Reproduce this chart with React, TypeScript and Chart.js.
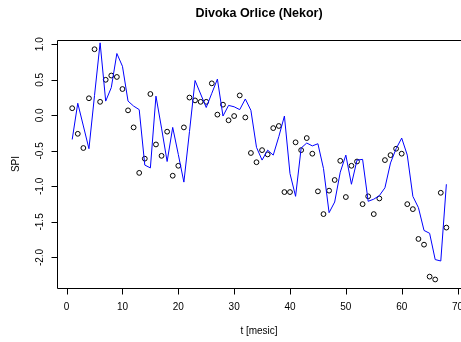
import { useEffect, useRef } from "react";
import { Chart, registerables } from "chart.js";

Chart.register(...registerables);

// Month index (t) for every observation
const months = [
  1, 2, 3, 4, 5, 6, 7, 8, 9, 10, 11, 12, 13, 14, 15, 16, 17, 18, 19, 20,
  21, 22, 23, 24, 25, 26, 27, 28, 29, 30, 31, 32, 33, 34, 35, 36, 37, 38, 39, 40,
  41, 42, 43, 44, 45, 46, 47, 48, 49, 50, 51, 52, 53, 54, 55, 56, 57, 58, 59, 60,
  61, 62, 63, 64, 65, 66, 67, 68,
];

// Observed SPI (open circles)
const observedSpi = [
  0.10, -0.26, -0.46, 0.24, 0.93, 0.19, 0.50, 0.56, 0.54, 0.37,
  0.07, -0.17, -0.81, -0.61, 0.30, -0.41, -0.57, -0.23, -0.85, -0.71,
  -0.17, 0.25, 0.21, 0.19, 0.19, 0.45, 0.01, 0.15, -0.07, -0.01,
  0.28, -0.03, -0.53, -0.66, -0.49, -0.55, -0.18, -0.15, -1.08, -1.08,
  -0.38, -0.49, -0.32, -0.54, -1.07, -1.39, -1.06, -0.91, -0.64, -1.15,
  -0.71, -0.65, -1.25, -1.14, -1.39, -1.17, -0.63, -0.56, -0.47, -0.54,
  -1.25, -1.32, -1.74, -1.82, -2.27, -2.31, -1.09, -1.58,
];

// Modelled SPI (blue line)
const modelSpi = [
  -0.34, 0.17, -0.15, -0.47, 0.28, 1.02, 0.20, 0.39, 0.87, 0.69,
  0.20, 0.13, 0.08, -0.70, -0.74, 0.27, -0.18, -0.65, -0.17, -0.55,
  -0.94, -0.23, 0.49, 0.30, 0.11, 0.31, 0.51, -0.01, 0.14, 0.12,
  0.08, 0.23, 0.07, -0.45, -0.63, -0.49, -0.56, -0.30, -0.01, -0.82,
  -1.14, -0.46, -0.39, -0.43, -0.40, -0.75, -1.37, -1.22, -0.80, -0.56,
  -0.97, -0.63, -0.62, -1.21, -1.18, -1.13, -1.02, -0.67, -0.47, -0.32,
  -0.56, -1.14, -1.30, -1.62, -1.66, -2.03, -2.05, -0.97,
];

const xTicks = [0, 10, 20, 30, 40, 50, 60, 70];
const yTicks = [1.0, 0.5, 0.0, -0.5, -1.0, -1.5, -2.0];
const yTickLabels = ["1.0", "0.5", "0.0", "-0.5", "-1.0", "-1.5", "-2.0"];

const title = "Divoka Orlice (Nekor)";
const xTitle = "t [mesic]";
const yTitle = "SPI";

const FONT = '"Liberation Sans", Arial, Helvetica, sans-serif';

// Base-graphics style frame, ticks and labels
const baseAxes = {
  id: "baseAxes",
  afterDraw(chart: any) {
    const { ctx, chartArea: a, scales } = chart;
    const x = scales.x;
    const y = scales.y;
    const left = Math.round(a.left) + 0.5;
    const top = Math.round(a.top) + 0.5;
    const bottom = Math.round(a.bottom) + 0.5;
    const right = Math.round(a.right) + 0.5;
    ctx.save();
    ctx.strokeStyle = "#000";
    ctx.lineWidth = 1;
    ctx.beginPath();
    ctx.moveTo(right, top);
    ctx.lineTo(left, top);
    ctx.lineTo(left, bottom);
    ctx.lineTo(right, bottom);
    ctx.stroke();

    ctx.fillStyle = "#000";
    ctx.font = `10px ${FONT}`;
    ctx.textAlign = "center";
    ctx.textBaseline = "middle";

    // x axis
    ctx.beginPath();
    xTicks.forEach((v) => {
      const px = Math.round(x.getPixelForValue(v)) + 0.5;
      ctx.moveTo(px, bottom);
      ctx.lineTo(px, bottom + 6);
    });
    ctx.stroke();
    xTicks.forEach((v) => {
      ctx.fillText(String(v), x.getPixelForValue(v), bottom + 19);
    });

    // y axis
    ctx.beginPath();
    yTicks.forEach((v) => {
      const py = Math.round(y.getPixelForValue(v)) + 0.5;
      ctx.moveTo(left, py);
      ctx.lineTo(left - 6, py);
    });
    ctx.stroke();
    yTicks.forEach((v, i) => {
      ctx.save();
      ctx.translate(left - 17, y.getPixelForValue(v));
      ctx.rotate(-Math.PI / 2);
      ctx.fillText(yTickLabels[i], 0, 0);
      ctx.restore();
    });

    const cx = (a.left + 461) / 2;
    ctx.fillText(xTitle, cx, 331);

    ctx.save();
    ctx.translate(16, (a.top + a.bottom) / 2);
    ctx.rotate(-Math.PI / 2);
    ctx.fillText(yTitle, 0, 0);
    ctx.restore();

    ctx.font = `bold 12.5px ${FONT}`;
    ctx.fillText(title, cx, 14);
    ctx.restore();
  },
};

export default function App() {
  const canvasRef = useRef<HTMLCanvasElement | null>(null);

  useEffect(() => {
    document.body.style.margin = "0";
    const canvas = canvasRef.current;
    if (!canvas) return;
    const chart = new Chart(canvas, {
      type: "line",
      data: {
        datasets: [
          {
            label: "model",
            data: months.map((t, i) => ({ x: t, y: modelSpi[i] })),
            borderColor: "#0000ff",
            borderWidth: 1,
            pointRadius: 0,
            tension: 0,
            fill: false,
          },
          {
            label: "observed",
            data: months.map((t, i) => ({ x: t, y: observedSpi[i] })),
            showLine: false,
            borderColor: "#000",
            backgroundColor: "rgba(0,0,0,0)",
            pointBorderColor: "#000",
            pointBackgroundColor: "rgba(0,0,0,0)",
            pointBorderWidth: 1,
            pointRadius: 2.4,
          },
        ],
      },
      options: {
        animation: false,
        responsive: false,
        devicePixelRatio: 1,
        layout: { autoPadding: false, padding: { left: 57, right: 0, top: 40, bottom: 54 } },
        scales: {
          x: { type: "linear", min: -1.72, max: 70.62, display: false },
          y: { type: "linear", min: -2.43, max: 1.06, display: false },
        },
        plugins: {
          legend: { display: false },
          title: { display: false },
          tooltip: { enabled: false },
        },
      },
      plugins: [baseAxes],
    });
    return () => chart.destroy();
  }, []);

  return (
    <div style={{ position: "absolute", left: 0, top: 0, width: 461, height: 342, background: "#fff" }}>
      <canvas ref={canvasRef} width={461} height={342} style={{ width: 461, height: 342 }} />
    </div>
  );
}
